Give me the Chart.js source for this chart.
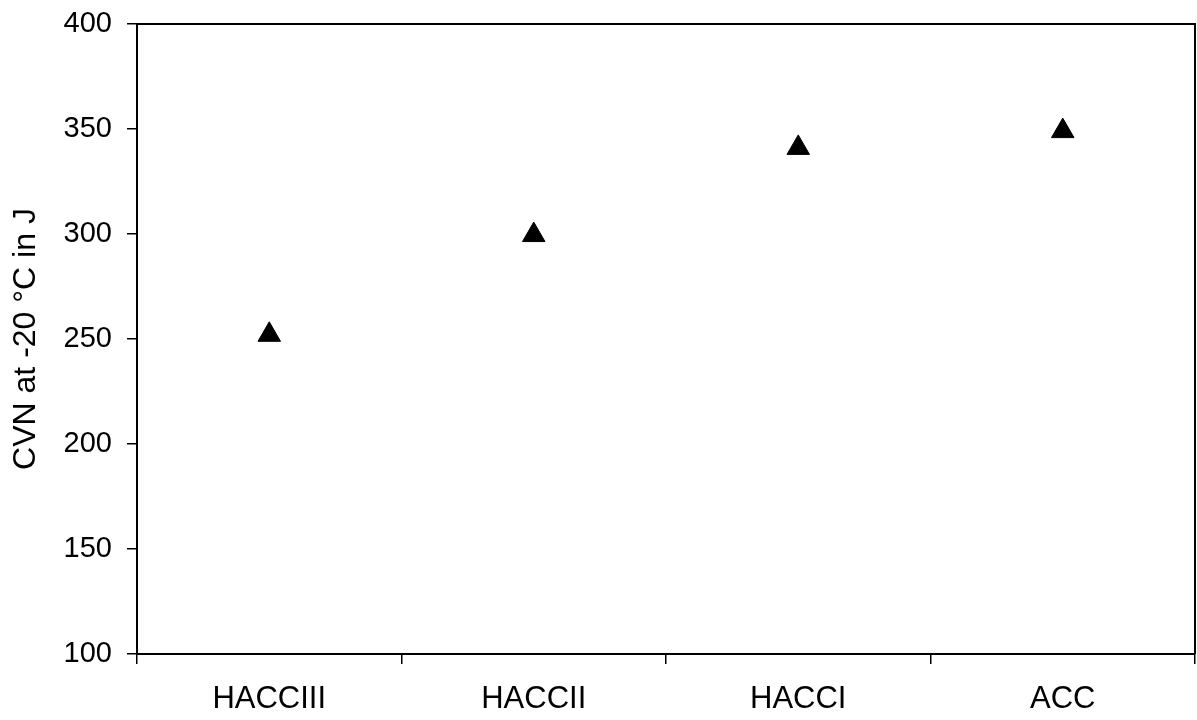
<!DOCTYPE html>
<html>
<head>
<meta charset="utf-8">
<script src="https://cdn.jsdelivr.net/npm/chart.js@4/dist/chart.umd.min.js"></script>
<style>
  html, body { margin: 0; padding: 0; background: #fff; }
  #wrap { width: 1197px; height: 720px; }
</style>
</head>
<body>
<div id="wrap"><canvas id="cvnChart" width="1197" height="720"></canvas></div>
<script>
// data
const categorias = ['HACCIII', 'HACCII', 'HACCI', 'ACC'];
const valoresCVN = [252, 299.5, 341, 349];
const yTicks = [100, 150, 200, 250, 300, 350, 400];
const tituloY = 'CVN at -20 °C in J';

const familia = '"Liberation Sans", Arial, sans-serif';

// draws the top and right edge of the plot box
const caixa = {
  id: 'caixa',
  afterDraw(chart) {
    const { ctx, chartArea: a } = chart;
    ctx.save();
    ctx.strokeStyle = '#000';
    ctx.lineWidth = 2;
    ctx.beginPath();
    ctx.moveTo(a.left, a.top);
    ctx.lineTo(a.right, a.top);
    ctx.lineTo(a.right, a.bottom);
    ctx.stroke();
    ctx.restore();
  }
};

const ctx = document.getElementById('cvnChart').getContext('2d');
new Chart(ctx, {
  type: 'line',
  data: {
    labels: categorias,
    datasets: [{
      label: tituloY,
      data: valoresCVN,
      showLine: false,
      pointStyle: 'triangle',
      pointRadius: 13,
      pointHoverRadius: 13,
      backgroundColor: '#000',
      borderColor: '#000',
      borderWidth: 1
    }]
  },
  options: {
    responsive: false,
    animation: false,
    layout: { autoPadding: false, padding: { top: 24, right: 2, left: 0, bottom: 0 } },
    plugins: { legend: { display: false }, tooltip: { enabled: false } },
    scales: {
      x: {
        type: 'category',
        offset: true,
        afterFit(scale) { scale.height = 66; },
        grid: {
          offset: true,
          drawOnChartArea: false,
          drawTicks: true,
          tickLength: 10,
          color: '#000',
          lineWidth: 1.5
        },
        border: { display: true, color: '#000', width: 2 },
        ticks: { color: '#000', font: { family: familia, size: 31 }, padding: 17, maxRotation: 0 }
      },
      y: {
        min: 100,
        max: 400,
        afterFit(scale) {
          scale.width = 137;
          scale.paddingTop = 0;
          scale.paddingBottom = 0;
        },
        afterBuildTicks(scale) { scale.ticks = yTicks.map(v => ({ value: v })); },
        grid: {
          drawOnChartArea: false,
          drawTicks: true,
          tickLength: 10,
          color: '#000',
          lineWidth: 1.5
        },
        border: { display: true, color: '#000', width: 2 },
        ticks: { color: '#000', font: { family: familia, size: 29 }, padding: 15 },
        title: {
          display: true,
          text: tituloY,
          color: '#000',
          font: { family: familia, size: 32 },
          padding: { top: 7, bottom: 0 }
        }
      }
    }
  },
  plugins: [caixa]
});
</script>
</body>
</html>
